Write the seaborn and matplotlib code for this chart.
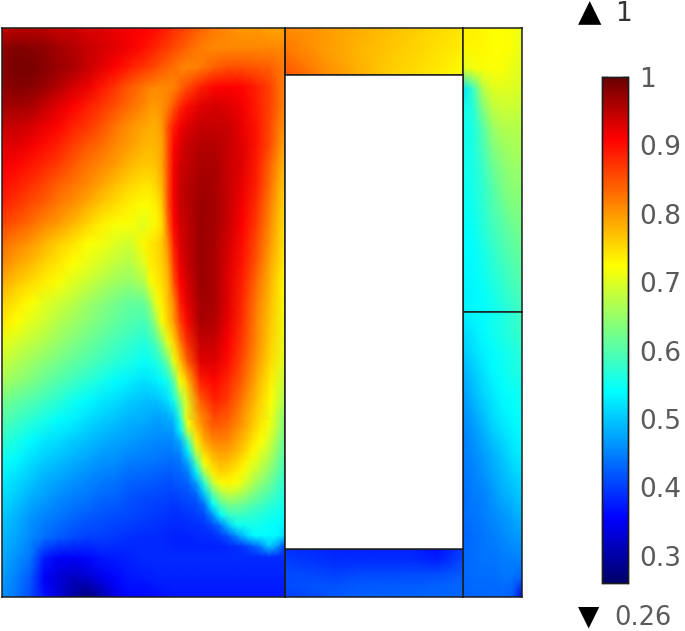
import numpy as np
import matplotlib
matplotlib.use('Agg')
import matplotlib.pyplot as plt
from matplotlib.colors import LinearSegmentedColormap
import seaborn as sns

# values, one row per line, top to bottom
left_domain = [
 [.94,.95,.95,.95,.94,.94,.93,.93,.92,.915,.91,.90,.88,.86,.84,.82,.81,.80,.80,.79,.79],
 [.975,.985,.98,.975,.965,.955,.945,.935,.925,.915,.90,.88,.86,.84,.82,.81,.81,.81,.81,.81,.81],
 [.98,.99,.99,.98,.97,.96,.945,.925,.91,.89,.87,.85,.83,.81,.82,.84,.85,.85,.845,.84,.82],
 [.975,.985,.98,.97,.955,.935,.92,.895,.87,.845,.825,.81,.81,.85,.885,.905,.91,.905,.885,.86,.815],
 [.965,.965,.96,.945,.925,.91,.89,.87,.85,.83,.81,.80,.84,.90,.925,.935,.93,.915,.89,.86,.81],
 [.94,.945,.935,.92,.905,.885,.87,.85,.825,.805,.79,.79,.87,.925,.945,.945,.94,.92,.895,.855,.80],
 [.925,.925,.915,.90,.885,.865,.845,.83,.81,.795,.78,.80,.90,.94,.955,.955,.945,.925,.895,.85,.785],
 [.915,.905,.895,.88,.865,.845,.825,.81,.795,.775,.765,.79,.915,.945,.96,.96,.945,.925,.89,.835,.77],
 [.90,.89,.875,.86,.84,.825,.81,.79,.77,.755,.745,.77,.915,.95,.965,.96,.945,.92,.885,.825,.76],
 [.885,.87,.855,.84,.82,.805,.785,.765,.75,.735,.725,.75,.91,.95,.97,.965,.945,.915,.875,.815,.75],
 [.86,.845,.83,.81,.795,.775,.755,.735,.72,.72,.705,.73,.90,.945,.97,.965,.94,.91,.865,.805,.745],
 [.83,.815,.80,.78,.76,.745,.725,.715,.70,.69,.73,.74,.87,.945,.97,.96,.935,.90,.855,.795,.74],
 [.81,.79,.775,.755,.74,.725,.71,.695,.68,.67,.70,.735,.845,.94,.97,.96,.93,.895,.845,.785,.735],
 [.785,.765,.75,.735,.72,.70,.685,.67,.655,.645,.665,.72,.82,.93,.97,.96,.925,.885,.83,.775,.725],
 [.76,.74,.725,.705,.69,.675,.655,.64,.625,.61,.615,.70,.79,.92,.965,.96,.925,.88,.82,.77,.72],
 [.74,.725,.705,.69,.67,.655,.64,.625,.61,.60,.59,.66,.77,.90,.96,.955,.92,.875,.815,.765,.715],
 [.71,.695,.68,.665,.65,.635,.62,.605,.59,.58,.565,.61,.72,.87,.945,.945,.91,.865,.81,.76,.71],
 [.685,.67,.655,.64,.625,.61,.60,.585,.57,.56,.545,.55,.65,.83,.925,.93,.90,.855,.80,.75,.705],
 [.66,.645,.63,.615,.60,.585,.57,.555,.54,.53,.52,.52,.57,.76,.885,.905,.88,.84,.785,.735,.68],
 [.625,.61,.60,.585,.57,.55,.54,.525,.515,.505,.495,.49,.51,.70,.84,.885,.865,.82,.77,.725,.66],
 [.60,.585,.57,.555,.54,.53,.515,.505,.495,.485,.48,.47,.48,.70,.80,.85,.84,.80,.755,.71,.63],
 [.575,.56,.54,.525,.515,.505,.495,.485,.475,.47,.46,.455,.455,.53,.74,.81,.83,.785,.74,.695,.62],
 [.55,.535,.52,.505,.495,.485,.475,.465,.46,.45,.445,.44,.435,.47,.61,.745,.78,.745,.71,.665,.60],
 [.53,.515,.50,.485,.475,.465,.455,.445,.44,.43,.425,.42,.415,.425,.49,.65,.725,.71,.67,.63,.575],
 [.515,.50,.48,.47,.455,.445,.44,.43,.425,.415,.41,.405,.40,.40,.425,.60,.67,.65,.625,.595,.55],
 [.50,.485,.465,.45,.44,.43,.42,.415,.41,.405,.40,.395,.39,.385,.395,.52,.57,.575,.565,.55,.53],
 [.49,.475,.455,.435,.42,.41,.40,.40,.395,.39,.385,.385,.38,.38,.38,.385,.41,.46,.525,.54,.51],
 [.48,.46,.44,.375,.35,.35,.36,.37,.375,.38,.385,.385,.385,.385,.385,.385,.385,.385,.385,.385,.385],
 [.47,.45,.42,.35,.33,.315,.325,.345,.36,.37,.375,.38,.38,.38,.38,.38,.38,.38,.38,.38,.38],
 [.46,.44,.41,.365,.33,.30,.27,.30,.34,.36,.36,.365,.37,.37,.37,.37,.37,.37,.37,.37,.37],
]
# finer readings along the steep left flank of the ridge
flank_patch = [
 [.825,.815,.81,.81,.81,.815,.83,.85],
 [.81,.80,.80,.805,.82,.85,.88,.90],
 [.79,.785,.785,.80,.85,.89,.915,.925],
 [.78,.775,.78,.79,.85,.905,.925,.94],
 [.765,.765,.77,.79,.85,.915,.935,.945],
 [.745,.745,.755,.78,.85,.915,.94,.95],
 [.725,.73,.735,.765,.85,.915,.94,.95],
 [.705,.715,.73,.75,.835,.905,.935,.945],
 [.73,.74,.75,.765,.81,.89,.93,.945],
 [.70,.735,.745,.76,.79,.87,.92,.94],
 [.665,.715,.735,.75,.775,.85,.91,.93],
 [.615,.65,.71,.735,.77,.815,.885,.92],
 [.59,.61,.655,.72,.76,.80,.86,.90],
 [.565,.58,.60,.645,.71,.76,.82,.87],
 [.545,.55,.56,.585,.625,.71,.77,.83],
 [.52,.525,.53,.54,.56,.61,.72,.76],
 [.495,.495,.495,.505,.52,.555,.63,.70],
 [.48,.475,.47,.47,.475,.49,.56,.70],
]
# finer readings around the foot of the ridge
foot_patch = [
 [.48,.56,.725,.785,.825,.85,.85,.84,.82,.80,.77,.745,.72,.68,.63],
 [.465,.53,.69,.76,.805,.83,.835,.825,.805,.785,.76,.735,.71,.67,.625],
 [.455,.48,.59,.735,.785,.81,.815,.81,.79,.77,.745,.725,.695,.655,.615],
 [.445,.455,.53,.68,.755,.785,.795,.79,.775,.755,.73,.705,.68,.64,.605],
 [.435,.44,.48,.60,.725,.76,.775,.77,.755,.735,.71,.685,.66,.625,.595],
 [.425,.43,.445,.53,.66,.735,.755,.75,.735,.715,.69,.665,.64,.61,.58],
 [.415,.42,.43,.47,.57,.675,.72,.73,.72,.695,.665,.64,.62,.595,.57],
 [.405,.41,.415,.43,.50,.60,.66,.68,.675,.655,.635,.615,.60,.58,.56],
 [.395,.40,.405,.41,.44,.54,.60,.625,.625,.615,.60,.59,.575,.565,.55],
 [.39,.39,.395,.40,.41,.46,.54,.58,.585,.58,.575,.565,.555,.55,.54],
 [.385,.385,.39,.39,.395,.41,.44,.50,.55,.55,.555,.55,.545,.54,.53],
 [.38,.38,.38,.385,.385,.39,.40,.42,.46,.50,.535,.54,.54,.535,.51],
 [.38,.38,.38,.38,.38,.38,.38,.385,.39,.40,.42,.45,.50,.47,.40],
 [.385,.385,.385,.385,.385,.385,.385,.385,.385,.385,.385,.385,.385,.385,.385],
]
top_domain = [
 [.81,.80,.785,.77,.755,.74],
 [.825,.80,.78,.765,.75,.735],
 [.85,.815,.785,.76,.745,.725],
]
right_top_domain = [
 [.735,.735,.73,.725,.725,.72,.71],
 [.73,.73,.73,.725,.725,.72,.705],
 [.70,.715,.72,.72,.72,.71,.70],
 [.52,.58,.67,.70,.705,.70,.695],
 [.55,.565,.63,.675,.685,.685,.68],
 [.55,.56,.60,.65,.665,.67,.67],
 [.55,.56,.59,.63,.65,.66,.66],
 [.55,.555,.58,.615,.635,.65,.65],
 [.545,.555,.575,.60,.625,.64,.64],
 [.545,.55,.57,.595,.61,.63,.63],
 [.54,.545,.565,.585,.60,.615,.625],
 [.54,.54,.555,.575,.59,.605,.615],
 [.535,.54,.55,.565,.58,.595,.605],
 [.53,.535,.545,.555,.57,.585,.595],
 [.53,.535,.54,.55,.56,.575,.585],
]
right_bottom_domain = [
 [.53,.535,.54,.55,.56,.575,.585],
 [.515,.525,.54,.55,.56,.57,.58],
 [.50,.515,.53,.54,.55,.56,.57],
 [.485,.50,.52,.535,.545,.555,.56],
 [.47,.49,.51,.525,.54,.545,.55],
 [.46,.475,.495,.515,.53,.54,.545],
 [.45,.465,.48,.50,.515,.53,.54],
 [.445,.455,.47,.485,.50,.52,.53],
 [.44,.45,.46,.475,.49,.505,.515],
 [.435,.445,.45,.465,.48,.49,.505],
 [.435,.44,.445,.455,.465,.475,.49],
 [.43,.435,.44,.445,.455,.465,.47],
 [.43,.435,.44,.44,.445,.45,.455],
 [.43,.435,.435,.435,.44,.44,.43],
 [.425,.43,.43,.43,.43,.42,.33],
]
bottom_domain = [
 [.39,.385,.38,.38,.38,.38,.365,.40],
 [.40,.395,.39,.39,.39,.39,.38,.41],
 [.41,.405,.40,.405,.405,.41,.41,.42],
 [.41,.415,.415,.42,.42,.42,.425,.43],
 [.40,.41,.42,.425,.425,.43,.43,.43],
]
vmin, vmax = 0.26, 1.0
bar_ticks = [0.3, 0.4, 0.5, 0.6, 0.7, 0.8, 0.9, 1.0]
bar_labels = ['0.3', '0.4', '0.5', '0.6', '0.7', '0.8', '0.9', '1']

W, H = 685, 631
LINE = '#1e1e1e'
GREY = '#5a5a5a'

stops = [(0.26, (0, 0, 0.42)), (0.355, (0, 0, 1)), (0.54, (0, 1, 1)),
         (0.725, (1, 1, 0)), (0.91, (1, 0, 0)), (1.0, (0.42, 0, 0))]
rainbow = LinearSegmentedColormap.from_list(
    'rainbow_comsol', [((v - vmin) / (vmax - vmin), c) for v, c in stops])

sns.set_theme(style='white')
fig = plt.figure(figsize=(W / 100, H / 100), dpi=100)


def box(x0, y0, x1, y1):
    # pixel box from the top left corner to figure fractions
    return fig.add_axes([x0 / W, 1 - y1 / H, (x1 - x0) / W, (y1 - y0) / H])


def domain(values, x0, y0, x1, y1, border=True, **kw):
    ax = box(x0, y0, x1, y1)
    data = np.array(values)
    kw.setdefault('cbar', False)
    sns.heatmap(data, ax=ax, cmap=rainbow, vmin=vmin, vmax=vmax, shading='gouraud',
                xticklabels=False, yticklabels=False, **kw)
    ax.set_xlim(0, data.shape[1] - 1)
    ax.set_ylim(data.shape[0] - 1, 0)
    for s in ax.spines.values():
        s.set_visible(border)
        s.set_color(LINE)
        s.set_linewidth(1.1)
    return ax


cax = box(602, 77, 628, 583)
left_ax = domain(left_domain, 2, 28, 285, 597, border=False, cbar=True, cbar_ax=cax,
                 cbar_kws={'ticks': bar_ticks})
domain(flank_patch, 144, 87, 186, 420, border=False)
domain(foot_patch, 172, 420, 285, 557, border=False)
domain(top_domain, 285, 28, 463, 75)
domain(right_top_domain, 463, 28, 522, 312)
domain(right_bottom_domain, 463, 312, 522, 597)
domain(bottom_domain, 285, 549, 463, 597)

# frame of the left domain, above its patches
frame = box(2, 28, 285, 597)
frame.patch.set_alpha(0)
frame.set_xticks([])
frame.set_yticks([])
for s in frame.spines.values():
    s.set_color(LINE)
    s.set_linewidth(1.1)

# white hole between the domains
hole = box(285, 75, 463, 549)
hole.set_xticks([])
hole.set_yticks([])
for s in hole.spines.values():
    s.set_color(LINE)
    s.set_linewidth(1.1)

cax.set_yticks(bar_ticks)
cax.set_yticklabels(bar_labels, color=GREY, fontsize=19)
cax.tick_params(axis='y', which='major', left=True, right=True, direction='in',
                length=4, width=1, color='black', pad=8)
for s in cax.spines.values():
    s.set_visible(True)
    s.set_color(LINE)
    s.set_linewidth(1)

fig.text(578 / W, 1 - 13 / H, '\u25b2', fontsize=22, color='black', va='center', ha='left')
fig.text(615 / W, 1 - 14 / H, '1', fontsize=19, color='#333333', va='center', ha='left')
fig.text(578 / W, 1 - 617 / H, '\u25bc', fontsize=20, color='black', va='center', ha='left')
fig.text(614 / W, 1 - 618 / H, '0.26', fontsize=18.5, color=GREY, va='center', ha='left')

fig.savefig('out.png', dpi=100)
